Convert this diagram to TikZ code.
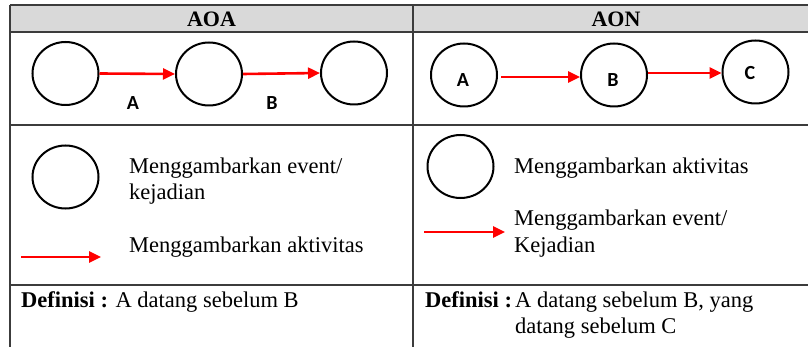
\documentclass[tikz,border=0pt]{standalone}
\usepackage{fontspec}
\setmainfont{Liberation Serif}
\newfontfamily\lblfont{Carlito}
\usetikzlibrary{shapes.geometric,arrows.meta}
\definecolor{rule}{HTML}{3C3C3C}
\definecolor{headfill}{HTML}{D9D9D9}
\definecolor{actred}{HTML}{FF0000}
\tikzset{
  grid/.style={draw=rule,line width=1.6pt},
  ev/.style={ellipse,draw=black,line width=2pt,minimum width=66pt,minimum height=63pt,inner sep=0pt},
  act/.style={draw=actred,line width=2.6pt,-{Triangle[length=12pt,width=11pt]}},
  txt/.style={font=\fontsize{22.5}{27}\selectfont,inner sep=0pt,anchor=base west},
  head/.style={font=\fontsize{22}{26}\selectfont\bfseries,inner sep=0pt,anchor=base},
  lbl/.style={font=\lblfont\bfseries\fontsize{20}{22}\selectfont,inner sep=0pt},
}
\begin{document}
\begin{tikzpicture}[x=1pt,y=-1pt]
\useasboundingbox (0,0) rectangle (808,347);
% header band
\fill[headfill] (10,5) rectangle (808,32);
% table rules
\draw[grid] (10,5) -- (808,5);
\draw[grid] (10,32) -- (808,32);
\draw[grid] (10,125) -- (808,125);
\draw[grid] (10,285) -- (808,285);
\draw[grid] (10,5) -- (10,347);
\draw[grid] (413,5) -- (413,347);
% headings
\node[head] (hAOA) at (211.5,27) {AOA};
\node[head] (hAON) at (616,27) {AON};
% activity-on-arrow network
\node[ev] (e1) at (65.5,73.5) {};
\node[ev] (e2) at (209,74) {};
\node[ev] (e3) at (354,73) {};
\draw[act] (e1.east) -- (e2.west);
\draw[act] (e2.east) -- (e3.west);
\node[lbl] (la) at (133,103) {A};
\node[lbl] (lb) at (272,103) {B};
% activity-on-node network
\node[ev] (na) at (464,75) {};
\node[ev] (nb) at (614,75) {};
\node[ev] (nc) at (755.5,72) {};
\node[lbl] (ta) at (463,80) {A};
\node[lbl] (tb) at (613,80) {B};
\node[lbl] (tc) at (750,73) {C};
\draw[act] ([xshift=3pt,yshift=-2pt]na.east) -- ([yshift=-2pt]nb.west);
\draw[act] ([yshift=2pt]nb.east) -- ([yshift=-1pt]nc.west);
% legend, left column
\node[ev] (kev) at (65.5,177) {};
\node[txt] (k1) at (129,174) {Menggambarkan event/};
\node[txt] (k2) at (129,200) {kejadian};
\coordinate (ka0) at (21,257);
\coordinate (ka1) at (101,257);
\draw[act] (ka0) -- (ka1);
\node[txt] (k3) at (129,253) {Menggambarkan aktivitas};
% legend, right column
\node[ev] (kno) at (460.5,166.5) {};
\node[txt] (r1) at (514,174) {Menggambarkan aktivitas};
\coordinate (kr0) at (424,232);
\coordinate (kr1) at (505,232);
\draw[act] (kr0) -- (kr1);
\node[txt] (r2) at (514,226) {Menggambarkan event/};
\node[txt] (r3) at (514,253) {Kejadian};
% definitions
\node[txt] (d1) at (21,307) {\textbf{Definisi :} A datang sebelum B};
\node[txt] (d2) at (425,307) {\textbf{Definisi :}};
\node[txt] (d3) at (515,307) {A datang sebelum B, yang};
\node[txt] (d4) at (515,333) {datang sebelum C};
\end{tikzpicture}
\end{document}
